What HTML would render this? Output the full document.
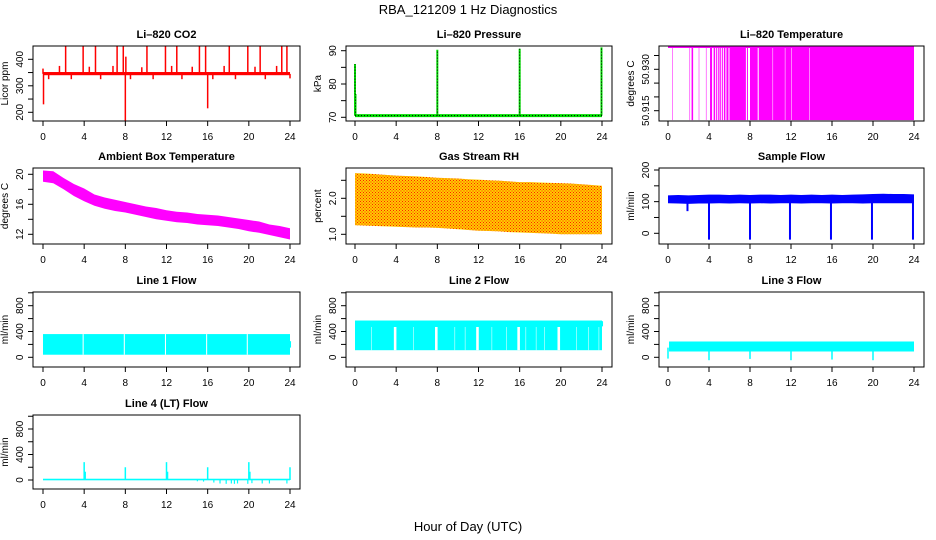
<!DOCTYPE html>
<html><head><meta charset="utf-8">
<style>
html,body{margin:0;padding:0;background:#fff;}
svg{display:block;font-family:"Liberation Sans",Arial,sans-serif;}
.tk{font-size:10px;fill:#000;}
.tt{font-size:11px;font-weight:bold;fill:#000;}
.yl{font-size:10px;fill:#000;}
</style></head>
<body>
<svg id="c" width="936" height="540" viewBox="0 0 936 540" xmlns="http://www.w3.org/2000/svg">
<defs>
<pattern id="rhpat" width="3" height="3" patternUnits="userSpaceOnUse">
<rect width="3" height="3" fill="#ffcc00"/><rect width="1" height="1" fill="#ff2000"/><rect x="1.5" y="1.5" width="1" height="1" fill="#ff2000"/>
</pattern>
</defs>
<text x="468" y="14" text-anchor="middle" font-size="13">RBA_121209  1 Hz Diagnostics</text>
<text x="468" y="531" text-anchor="middle" font-size="13">Hour of Day (UTC)</text>
</svg>
<script>
// ---- data ----
const xTicks = [0,4,8,12,16,20,24];
const co2SpikeHours = [2.2,3.9,5.1,7.2,7.8,10.1,11.9,13.0,15.2,15.8,18.1,19.9,21.1,23.2,23.7, 1.6,4.5,6.8,9.6,12.5,14.5,17.6,20.6,22.7, 0.55,2.75,5.6,8.5,10.7,13.5,16.5,18.7,21.6,24.0, 0.05,8.0,8.05,16.0,0.0];
const co2SpikeValues = [455,455,455,455,455,455,455,455,455,455,455,455,455,455,455, 375,372,375,370,375,372,375,372,375, 325,325,325,325,325,325,325,325,325,328, 230,160,410,215,365];
const co2Base = [340,352];
const presSpikeHours = [0.0,0.05,8.0,16.0,23.95];
const presSpikeValues = [86,77,90.3,90.6,91];
const presBase = 70.5;
const tempSegStart = [0.4,2.1,2.3,3.0,3.7,4.1,4.45,4.7,4.9,5.05,5.25,5.45,5.7,6.0,7.7,8.0,8.85,10.25,11.45,12.05,13.85];
const tempSegEnd   = [0.45,2.15,2.45,3.05,3.75,4.3,4.6,4.8,5.0,5.15,5.35,5.6,5.9,7.6,7.8,8.75,10.2,11.4,12.0,13.8,24.0];
const tempRange = [50.9116,50.938];
const hours = [0,1,2,3,4,5,6,7,8,9,10,11,12,13,14,15,16,17,18,19,20,21,22,23,24];
const ambLower = [19.0,18.8,18.0,17.1,16.4,15.8,15.4,15.1,14.9,14.6,14.3,14.0,13.8,13.6,13.5,13.3,13.2,13.1,12.9,12.7,12.4,12.2,11.9,11.6,11.3];
const ambUpper = [20.5,20.4,19.5,18.7,18.1,17.3,16.9,16.6,16.3,16.0,15.7,15.5,15.2,15.0,14.9,14.7,14.6,14.5,14.3,14.1,13.9,13.7,13.3,13.1,12.8];
const rhLower = [1.25,1.24,1.23,1.22,1.21,1.2,1.19,1.19,1.18,1.16,1.14,1.12,1.1,1.09,1.08,1.06,1.05,1.04,1.03,1.02,1.0,1.0,1.0,1.0,1.0];
const rhUpper = [2.7,2.69,2.67,2.65,2.63,2.62,2.61,2.59,2.57,2.56,2.55,2.53,2.52,2.5,2.49,2.47,2.45,2.45,2.44,2.43,2.42,2.41,2.39,2.37,2.35];
const sfLower = [95,94,93,94,94,95,94,95,94,95,94,95,95,94,95,95,94,95,95,94,95,95,95,95,95];
const sfUpper = [120,121,120,121,122,122,121,122,121,122,122,121,122,121,122,121,122,121,122,123,124,125,124,124,123];
const sfDipHours = [1.9,4.0,8.0,11.9,15.9,19.9,23.9];
const sfDipValues = [70,-20,-20,-20,-20,-20,-20];
const l1Band = [40,360];
const l1GapHours = [3.9,7.9,11.9,15.9,19.85];
const l2Band = [110,570];
const l2TopBlock = 470;
const l2GapHours = [1.6,3.9,5.7,7.9,9.7,10.7,11.9,13.3,14.7,15.9,16.6,17.6,18.4,19.8,21.5,22.7,23.7];
const l2GapWidths = [0.05,0.25,0.05,0.25,0.05,0.05,0.25,0.05,0.05,0.25,0.05,0.05,0.05,0.25,0.05,0.05,0.05];
const l3Band = [90,245];
const l3DipHours = [0.0,4.0,8.0,12.0,16.0,20.0];
const l3DipValues = [-20,-45,-25,-45,-35,-45];
const l4Base = [-5,20];
const l4SpikeHours = [4.0,8.0,12.0,16.0,20.0,24.0,4.1,12.1,20.1];
const l4SpikeValues = [280,200,280,200,280,200,130,130,130];
const l4NegHours = [15.0,15.6,16.6,17.2,17.8,18.3,18.6,18.9,19.9,20.3,21.3,22.0,23.7];
const l4NegValues = [-20,-25,-40,-55,-60,-55,-60,-55,-60,-50,-55,-55,-55];

// ---- layout ----
const svg = document.getElementById('c');
const NS = 'http://www.w3.org/2000/svg';
const cols = [{bx0:33,bx1:300,h0:43,h24:290},{bx0:346,bx1:612,h0:355,h24:602},{bx0:659,bx1:924,h0:668,h24:914}];
const rows = [[46,121],[168,244],[292,367],[415,489]];
function el(tag, attrs, parent){
  const e = document.createElementNS(NS, tag);
  for (const k in attrs) e.setAttribute(k, attrs[k]);
  (parent||svg).appendChild(e);
  return e;
}
function panel(name, col, row, v1, p1, v2, p2, ticks, labels, title, ylab){
  const c = cols[col], r = rows[row];
  const g = el('g', {});
  
  
  const x = h => c.h0 + h*(c.h24-c.h0)/24;
  const y = v => p1 + (v-v1)*(p2-p1)/(v2-v1);
  const clipId = 'clip-' + name;
  const cp = el('clipPath', {id: clipId}, g);
  el('rect', {x:c.bx0, y:r[0], width:c.bx1-c.bx0, height:r[1]-r[0]}, cp);
  const data = el('g', {'clip-path':'url(#'+clipId+')'}, g);
  
  
  const box = el('rect', {x:c.bx0, y:r[0], width:c.bx1-c.bx0, height:r[1]-r[0], fill:'none', stroke:'#000', 'stroke-width':1}, g);
  
  
  const t = el('text', {x:(c.bx0+c.bx1)/2, y:r[0]-8, 'text-anchor':'middle', class:'tt'}, g);
  t.textContent = title;
  
  
  xTicks.forEach(h => {
    el('line', {x1:x(h), x2:x(h), y1:r[1], y2:r[1]+5, stroke:'#000'}, g);
    const tx = el('text', {x:x(h), y:r[1]+19, 'text-anchor':'middle', class:'tk'}, g);
    tx.textContent = h;
    
    
  });
  ticks.forEach((v,i) => {
    const yy = y(v);
    el('line', {x1:c.bx0-5, x2:c.bx0, y1:yy, y2:yy, stroke:'#000'}, g);
    if (labels[i] !== '') {
      const ty = el('text', {x:c.bx0-10, y:yy, 'text-anchor':'middle', class:'tk', transform:'rotate(-90 '+(c.bx0-10)+' '+yy+')'}, g);
      ty.textContent = labels[i];
      
      
    }
  });
  const yc = (r[0]+r[1])/2;
  const yt = el('text', {x:c.bx0-25, y:yc, 'text-anchor':'middle', class:'yl', transform:'rotate(-90 '+(c.bx0-25)+' '+yc+')'}, g);
  yt.textContent = ylab;
  
  
  return {x, y, g:data};
}
function vline(p, h, v1, v2, color, w){
  return el('line', {x1:p.x(h), x2:p.x(h), y1:p.y(v1), y2:p.y(v2), stroke:color, 'stroke-width':w||1.5}, p.g);
}
function rect(p, h1, h2, v1, v2, fill){
  const xa = p.x(h1), xb = p.x(h2), ya = p.y(v1), yb = p.y(v2);
  return el('rect', {x:Math.min(xa,xb), y:Math.min(ya,yb), width:Math.abs(xb-xa), height:Math.abs(yb-ya), fill:fill}, p.g);
}
function band(p, lo, hi, fill){
  let pts = hours.map((h,i)=>p.x(h)+','+p.y(hi[i]));
  pts = pts.concat(hours.slice().reverse().map((h,j)=>{const i=hours.length-1-j;return p.x(h)+','+p.y(lo[i]);}));
  return el('polygon', {points:pts.join(' '), fill:fill}, p.g);
}

let p = panel('co2',0,0,200,112.3,400,59.3,[200,250,300,350,400],['200','','300','','400'],'Li\u2013820 CO2','Licor ppm');
rect(p,0,24,co2Base[0],co2Base[1],'#ff0000');
co2SpikeHours.forEach((h,i)=>{ const l = vline(p,h,345,co2SpikeValues[i],'#ff0000',1.5);
  
   });

p = panel('pressure',1,0,70,117.3,90,50.7,[70,75,80,85,90],['70','','80','','90'],'Li\u2013820 Pressure','kPa');
el('line',{x1:p.x(0),x2:p.x(24),y1:p.y(presBase),y2:p.y(presBase),stroke:'#00dd00','stroke-width':3},p.g);
el('line',{x1:p.x(0),x2:p.x(24),y1:p.y(presBase),y2:p.y(presBase),stroke:'#000','stroke-width':1,'stroke-dasharray':'1,2'},p.g);
presSpikeHours.forEach((h,i)=>{
  const l = vline(p,h,presBase,presSpikeValues[i],'#00dd00',2);
  
  
  const d = vline(p,h,presBase,presSpikeValues[i],'#000',1);
  d.setAttribute('stroke-dasharray','1,2');
});

p = panel('li820-temp',2,0,50.915,110.7,50.930,69.3,[50.915,50.920,50.925,50.930,50.935],['50.915','','','50.930',''],'Li\u2013820 Temperature','degrees C');
el('line',{x1:p.x(0),x2:p.x(24),y1:p.y(tempRange[1]),y2:p.y(tempRange[1]),stroke:'#ff00ff','stroke-width':1.5},p.g);
tempSegStart.forEach((s,i)=>{ const r = rect(p,s,tempSegEnd[i],tempRange[0],tempRange[1],'#ff00ff');
  
   });

p = panel('ambient',0,1,12,234.3,20,174.3,[12,14,16,18,20],['12','','16','','20'],'Ambient Box Temperature','degrees C');
band(p,ambLower,ambUpper,'#ff00ff');

p = panel('rh',1,1,1.0,234.3,2.0,198.3,[1.0,1.5,2.0,2.5],['1.0','','2.0',''],'Gas Stream RH','percent');
band(p,rhLower,rhUpper,'url(#rhpat)');

p = panel('sample-flow',2,1,0,233.3,200,170,[0,50,100,150,200],['0','','100','','200'],'Sample Flow','ml/min');
band(p,sfLower,sfUpper,'#0000ff');
sfDipHours.forEach((h,i)=>{ const l = vline(p,h,100,sfDipValues[i],'#0000ff',2);
  
   });

const flowTicks = [0,200,400,600,800,1000], flowLabels = ['0','','400','','800',''];
p = panel('line1',0,2,0,357.3,800,305.7,flowTicks,flowLabels,'Line 1 Flow','ml/min');
rect(p,0,24,l1Band[0],l1Band[1],'#00ffff');
rect(p,24,24.1,150,250,'#00ffff');
l1GapHours.forEach(h=>{ const r = rect(p,h-0.05,h+0.05,l1Band[0],l1Band[1],'#ffffff');
  
   });

p = panel('line2',1,2,0,357.3,800,305.7,flowTicks,flowLabels,'Line 2 Flow','ml/min');
rect(p,0,24,l2Band[0],l2Band[1],'#00ffff');
rect(p,24,24.1,480,560,'#00ffff');
l2GapHours.forEach((h,i)=>{ const r = rect(p,h-l2GapWidths[i]/2,h+l2GapWidths[i]/2,l2Band[0],l2TopBlock,'#ffffff');
  
   });

p = panel('line3',2,2,0,357.3,800,305.7,flowTicks,flowLabels,'Line 3 Flow','ml/min');
rect(p,0.1,24,l3Band[0],l3Band[1],'#00ffff');
l3DipHours.forEach((h,i)=>{ const l = vline(p,h,150,l3DipValues[i],'#00ffff',1.5);
  
   });

p = panel('line4',0,3,0,480,800,429,flowTicks,flowLabels,'Line 4 (LT) Flow','ml/min');
rect(p,0,24,l4Base[0],l4Base[1],'#00ffff');
l4SpikeHours.forEach((h,i)=>{ const l = vline(p,h,0,l4SpikeValues[i],'#00ffff',1.5);
  
   });
l4NegHours.forEach((h,i)=>{ const l = vline(p,h,0,l4NegValues[i],'#00ffff',1.2);
  
   });
</script>
</body></html>
